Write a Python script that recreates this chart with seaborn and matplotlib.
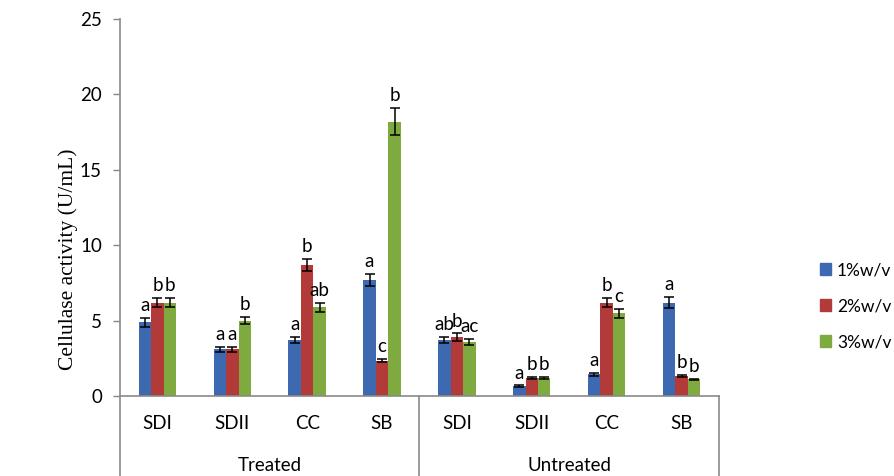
import pandas as pd
import matplotlib.pyplot as plt
import seaborn as sns
import numpy as np

# data
groups = ['Treated', 'Untreated']
substrates = ['SDI', 'SDII', 'CC', 'SB']
concentrations = ['1%w/v', '2%w/v', '3%w/v']

mean_1 = [4.9, 3.1, 3.7, 7.7, 3.7, 0.65, 1.45, 6.2]
mean_2 = [6.2, 3.1, 8.7, 2.35, 3.9, 1.2, 6.2, 1.35]
mean_3 = [6.2, 5.0, 5.9, 18.2, 3.6, 1.2, 5.5, 1.1]

err_1 = [0.3, 0.15, 0.2, 0.4, 0.2, 0.05, 0.1, 0.35]
err_2 = [0.3, 0.15, 0.4, 0.12, 0.25, 0.06, 0.3, 0.07]
err_3 = [0.3, 0.25, 0.3, 0.9, 0.2, 0.06, 0.3, 0.06]

letters_1 = ['a', 'a', 'a', 'a', 'ab', 'a', 'a', 'a']
letters_2 = ['b', 'a', 'b', 'c', 'b', 'b', 'b', 'b']
letters_3 = ['b', 'b', 'ab', 'b', 'ac', 'b', 'c', 'b']

colors = ['#3D69B1', '#B23B3A', '#7FAA3F']

# build long table
cats = [f'{g} {s}' for g in groups for s in substrates]
rows = []
for means, conc in zip([mean_1, mean_2, mean_3], concentrations):
    for c, m in zip(cats, means):
        rows.append({'cat': c, 'conc': conc, 'value': m})
df = pd.DataFrame(rows)

fig = plt.figure(figsize=(8.94, 4.76), dpi=100)
ax = fig.add_axes([0.1342, 0.168, 0.670, 0.792])

sns.barplot(data=df, x='cat', y='value', hue='conc', order=cats,
            hue_order=concentrations, palette=colors, width=0.5,
            saturation=1, errorbar=None, legend=False, ax=ax)

# error bars and letters
for cont, errs, lets in zip(ax.containers, [err_1, err_2, err_3],
                            [letters_1, letters_2, letters_3]):
    xs = [p.get_x() + p.get_width() / 2 for p in cont.patches]
    hs = [p.get_height() for p in cont.patches]
    ax.errorbar(xs, hs, yerr=errs, fmt='none', ecolor='black',
                elinewidth=1.1, capsize=3.8, capthick=1.1, zorder=5)
    for x, h, e, t in zip(xs, hs, errs, lets):
        ax.text(x, h + e + 0.25, t, ha='center', va='bottom',
                fontsize=13.5, family='Lato', color='black')

ax.set_xlim(-0.5, 7.5)
ax.set_ylim(0, 25)
ax.set_yticks(range(0, 26, 5))
ax.set_yticklabels([str(v) for v in range(0, 26, 5)], family='Lato', fontsize=13.5)
ax.set_xticks([])
ax.set_xlabel('')
ax.set_ylabel('Cellulase activity (U/mL)', family='Liberation Serif', fontsize=15.5)
ax.yaxis.set_label_coords(-0.07, 0.363)
ax.tick_params(axis='y', length=5, width=1, color='#868686', pad=8)

for side in ['top', 'right', 'bottom', 'left']:
    ax.spines[side].set_visible(False)

line_col = '#8A8A8A'
ybot = -0.168 / 0.792
# left axis going down to the edge, bottom axis and group dividers
ax.plot([0, 0], [1, ybot], transform=ax.transAxes, color=line_col, lw=1.2, clip_on=False)
ax.plot([0, 1], [0, 0], transform=ax.transAxes, color=line_col, lw=1.2, clip_on=False)
ax.plot([0.5, 0.5], [0, ybot], transform=ax.transAxes, color=line_col, lw=1.2, clip_on=False)
ax.plot([1, 1], [0, ybot], transform=ax.transAxes, color=line_col, lw=1.2, clip_on=False)

# category and group labels
trans = ax.get_xaxis_transform()
for i, c in enumerate(cats):
    ax.text(i, -0.074, c.split(' ')[1], transform=trans, ha='center', va='center',
            fontsize=13.5, family='Lato')
for j, g in enumerate(groups):
    ax.text(1.5 + 4 * j, -0.183, g, transform=trans, ha='center', va='center',
            fontsize=13.5, family='Lato')

# legend
handles = [plt.Rectangle((0, 0), 1, 1, color=c) for c in colors]
fig.legend(handles, concentrations, loc='center left', bbox_to_anchor=(0.909, 0.357),
           frameon=False, prop={'family': 'Lato', 'size': 12.5},
           handlelength=0.65, handleheight=0.65, handletextpad=0.35, labelspacing=1.15,
           borderaxespad=0)

plt.savefig('out.png', dpi=100)
